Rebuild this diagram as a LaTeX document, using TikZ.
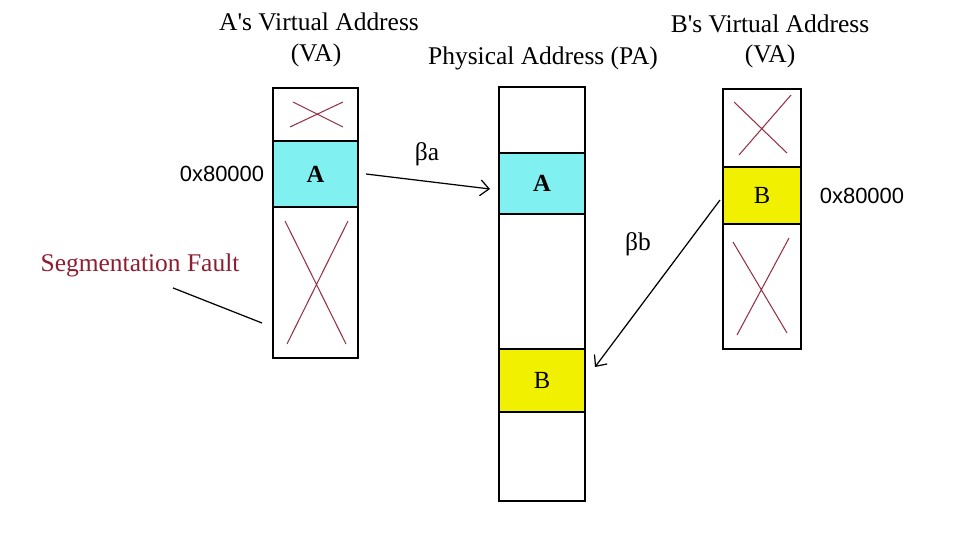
\documentclass[tikz,border=0pt]{standalone}
\usepackage{fontspec}
\setmainfont{Liberation Serif}
\newfontfamily\hexfont{Liberation Sans}
\usetikzlibrary{arrows.meta}
\definecolor{segcyan}{RGB}{128,240,240}
\definecolor{segyellow}{RGB}{240,240,0}
\definecolor{crossred}{RGB}{150,50,70}
\definecolor{faultred}{RGB}{140,30,50}
\begin{document}
\begin{tikzpicture}[x=0.02cm,y=-0.02cm,
  cell/.style={draw, line width=0.9pt, inner sep=0pt, outer sep=0pt,
    font=\fontsize{14}{16}\selectfont},
  cross/.style={draw=crossred, line width=0.6pt},
  title/.style={font=\fontsize{14.5}{17}\selectfont, inner sep=0pt},
  hex/.style={font=\hexfont\fontsize{12.5}{15}\selectfont, inner sep=0pt},
  link/.style={line width=0.7pt, -{Straight Barb[length=5pt,width=9pt]}}]
  \useasboundingbox (0,0) rectangle (962,540);

  % Espaço virtual de A.
  \node[title] (titA) at (319,22) {A\textquotesingle s Virtual Address};
  \node[title] (vaA) at (316,55) {(VA)};
  \node[cell, minimum width=1.7cm, minimum height=1.06cm] (aTop) at (315.5,114.5) {};
  \node[cell, fill=segcyan, minimum width=1.7cm, minimum height=1.32cm,
    font=\fontsize{14}{16}\selectfont\bfseries] (aMid) at (315.5,174) {A};
  \node[cell, minimum width=1.7cm, minimum height=3.02cm] (aBot) at (315.5,282.5) {};
  \draw[cross] (290,127) -- (343,102) (293,102) -- (343,127);
  \draw[cross] (285,221) -- (346,344) (348,221) -- (287,344);
  \node[hex] (hexA) at (222,174) {0x80000};

  % Espaço físico.
  \node[title] (titP) at (543,58) {Physical Address (PA)};
  \node[cell, minimum width=1.72cm, minimum height=1.32cm] (pTop) at (542,120) {};
  \node[cell, fill=segcyan, minimum width=1.72cm, minimum height=1.22cm,
    font=\fontsize{14}{16}\selectfont\bfseries] (pA) at (542,183.5) {A};
  \node[cell, minimum width=1.72cm, minimum height=2.7cm] (pMid) at (542,281.5) {};
  \node[cell, fill=segyellow, minimum width=1.72cm, minimum height=1.26cm] (pB) at (542,380.5) {B};
  \node[cell, minimum width=1.72cm, minimum height=1.78cm] (pBot) at (542,456.5) {};

  % Espaço virtual de B.
  \node[title] (titB) at (770,24) {B\textquotesingle s Virtual Address};
  \node[title] (vaB) at (770,56) {(VA)};
  \node[cell, minimum width=1.56cm, minimum height=1.56cm] (bTop) at (762,128) {};
  \node[cell, fill=segyellow, minimum width=1.56cm, minimum height=1.14cm] (bB) at (762,195.5) {B};
  \node[cell, minimum width=1.56cm, minimum height=2.5cm] (bBot) at (762,286.5) {};
  \draw[cross] (734,102) -- (787,153) (739,155) -- (791,95);
  \draw[cross] (733,242) -- (787,333) (789,238) -- (737,335);
  \node[hex] (hexB) at (862,196) {0x80000};

  % Traduções.
  \draw[link] ([xshift=0.16cm]aMid.east) -- ([xshift=-0.18cm,yshift=-0.11cm]pA.west);
  \node[title] (betaA) at (427,154) {βa};
  \draw[link] ([xshift=-0.06cm,yshift=-0.09cm]bB.west) -- ([xshift=0.2cm,yshift=0.27cm]pB.east);
  \node[title] (betaB) at (638,244) {βb};

  % Falha de segmentação.
  \node[title, text=faultred] (fault) at (140,265) {Segmentation Fault};
  \coordinate (faultTip) at (262,323);
  \draw[line width=0.7pt] ([xshift=0.66cm,yshift=-0.22cm]fault.south) -- (faultTip);
\end{tikzpicture}
\end{document}
